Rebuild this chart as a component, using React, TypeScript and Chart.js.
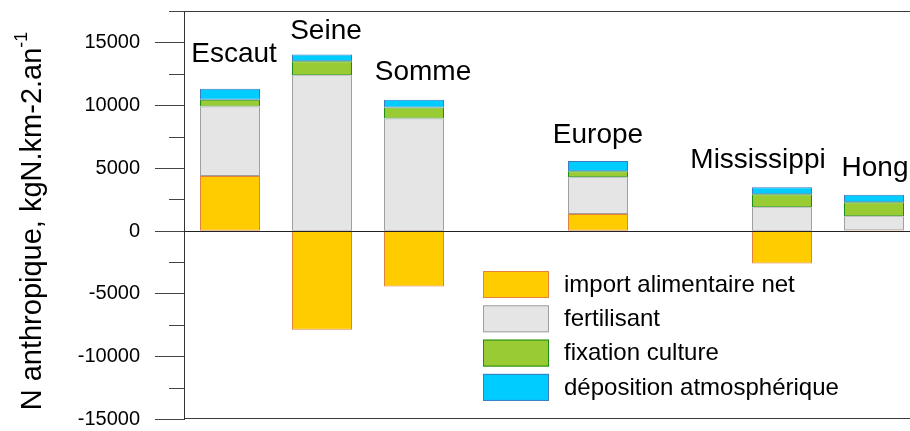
import React, { useEffect, useRef } from "react";
import { Chart, registerables } from "chart.js";

Chart.register(...registerables);

const categories = ["Escaut", "Seine", "Somme", "", "Europe", "", "Mississippi", "Hong"];
const importNet = [4360, -7900, -4450, null, 1320, null, -2620, 40];
const fertilisant = [5540, 12380, 8940, null, 2940, null, 1860, 1120];
const fixation = [540, 1120, 880, null, 480, null, 1040, 1100];
const deposition = [860, 540, 620, null, 820, null, 560, 610];
const seriesNames = ["import alimentaire net", "fertilisant", "fixation culture", "déposition atmosphérique"];
const yTickStep = 2500;
const yMajorStep = 5000;
const yMin = -15000;
const yMax = 17500;
const yTitle = "N anthropique, kgN.km-2.an";
const yTitleSup = "-1";

// label layout offsets (pixels) relative to the top of each stack
const labelDx = [4, 4, 9, 0, 0, 0, -24, 1];
const labelDy = [27, 15, 20, 0, 18, 0, 19, 19];

const FONT = "'Liberation Sans', Arial, sans-serif";

const fills = ["#FFCC00", "#E5E5E5", "#99CC33", "#00CCFF"];
const borders = ["#E3823F", "#A0A0A0", "#1F8C1A", "#3F7BC2"];

const overlayPlugin = {
  id: "overlay",
  afterDraw(chart: any) {
    const ctx = chart.ctx;
    const ca = chart.chartArea;
    const y = chart.scales.y;
    const x = chart.scales.x;
    ctx.save();
    // frame lines
    ctx.strokeStyle = "#3a3a3a";
    ctx.lineWidth = 1;
    ctx.beginPath();
    ctx.moveTo(ca.left, Math.round(ca.top) + 0.5);
    ctx.lineTo(ca.right, Math.round(ca.top) + 0.5);
    ctx.moveTo(ca.left, Math.round(ca.bottom) - 0.5);
    ctx.lineTo(ca.right, Math.round(ca.bottom) - 0.5);
    ctx.stroke();
    // zero line
    const y0 = Math.round(y.getPixelForValue(0)) + 0.5;
    ctx.strokeStyle = "#222";
    ctx.beginPath();
    ctx.moveTo(ca.left, y0);
    ctx.lineTo(ca.right, y0);
    ctx.stroke();
    // ticks and tick labels
    ctx.strokeStyle = "#444";
    ctx.fillStyle = "#000";
    ctx.font = `20px ${FONT}`;
    ctx.textAlign = "right";
    ctx.textBaseline = "middle";
    ctx.beginPath();
    for (let v = yMin; v <= yMax; v += yTickStep) {
      const py = Math.round(y.getPixelForValue(v)) + 0.5;
      const major = v % yMajorStep === 0;
      const len = major ? 29 : 15;
      ctx.moveTo(ca.left - len, py);
      ctx.lineTo(ca.left, py);
      if (major && v <= 15000) ctx.fillText(String(v), ca.left - 44, py);
    }
    ctx.stroke();

    // category labels
    ctx.fillStyle = "#000";
    ctx.font = `28px ${FONT}`;
    ctx.textAlign = "center";
    ctx.textBaseline = "alphabetic";
    categories.forEach((c, i) => {
      if (!c) return;
      const top =
        [importNet[i], fertilisant[i], fixation[i], deposition[i]]
          .filter((v) => v !== null && (v as number) > 0)
          .reduce((a: number, b) => a + (b as number), 0);
      const px = x.getPixelForValue(i) + labelDx[i];
      const py = y.getPixelForValue(top) - labelDy[i];
      ctx.fillText(c, px, py);
    });

    // legend
    const lx = 483;
    const ly = 271;
    ctx.font = `24px ${FONT}`;
    ctx.textAlign = "left";
    ctx.textBaseline = "middle";
    chart.data.datasets.forEach((ds: any, i: number) => {
      const by = ly + i * 34.3;
      ctx.fillStyle = ds.backgroundColor;
      ctx.fillRect(lx, by, 66, 27);
      ctx.strokeStyle = ds.borderColor;
      ctx.lineWidth = 1;
      ctx.strokeRect(lx + 0.5, by + 0.5, 65, 26);
      ctx.fillStyle = "#000";
      ctx.fillText(ds.label, 564, by + 14);
    });

    // y title with superscript
    ctx.translate(33, 221);
    ctx.rotate(-Math.PI / 2);
    ctx.font = `29px ${FONT}`;
    const w1 = ctx.measureText(yTitle).width;
    ctx.font = `18px ${FONT}`;
    const w2 = ctx.measureText(yTitleSup).width;
    const start = -(w1 + w2) / 2;
    ctx.textAlign = "left";
    ctx.textBaseline = "middle";
    ctx.fillStyle = "#000";
    ctx.font = `29px ${FONT}`;
    ctx.fillText(yTitle, start, 0);
    ctx.font = `18px ${FONT}`;
    ctx.fillText(yTitleSup, start + w1, -11);
    ctx.restore();
  },
};

export default function App() {
  const ref = useRef<HTMLCanvasElement | null>(null);
  useEffect(() => {
    if (!ref.current) return;
    const mk = (label: string, data: any[], i: number) => ({
      label,
      data,
      backgroundColor: fills[i],
      borderColor: borders[i],
      borderWidth: 1,
      borderSkipped: false,
      categoryPercentage: 1,
      barPercentage: 0.6522,
    });
    const chart = new Chart(ref.current, {
      type: "bar",
      data: {
        labels: categories,
        datasets: [
          mk(seriesNames[0], importNet, 0),
          mk(seriesNames[1], fertilisant, 1),
          mk(seriesNames[2], fixation, 2),
          mk(seriesNames[3], deposition, 3),
        ],
      },
      options: {
        animation: false,
        responsive: true,
        maintainAspectRatio: false,
        layout: { padding: { top: 11, bottom: 12, left: 0, right: 10 } },
        plugins: { legend: { display: false }, tooltip: { enabled: false } },
        scales: {
          x: { display: false, stacked: true },
          y: {
            stacked: true,
            min: yMin,
            max: yMax,
            afterFit: (s: any) => {
              s.width = 184;
            },
            grid: { display: false, drawTicks: false },
            border: { display: true, color: "#333", width: 1 },
            ticks: { display: false, stepSize: yTickStep },
          },
        },
      },
      plugins: [overlayPlugin],
    });
    return () => chart.destroy();
  }, []);
  return (
    <div style={{ position: "fixed", left: 0, top: 0, width: 910, height: 431, overflow: "hidden", background: "#fff" }}>
      <div style={{ position: "relative", width: 930, height: 431 }}>
        <canvas ref={ref} />
      </div>
    </div>
  );
}
